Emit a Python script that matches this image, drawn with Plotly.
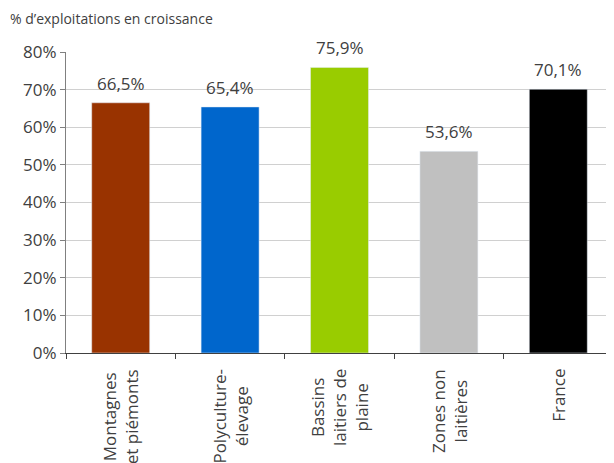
import plotly.graph_objects as go

categories = ["Montagnes<br>et piémonts", "Polyculture-<br>élevage", "Bassins<br>laitiers de<br>plaine", "Zones non<br>laitières", "France"]
values = [0.665, 0.654, 0.759, 0.536, 0.701]
labels = ["66,5%", "65,4%", "75,9%", "53,6%", "70,1%"]
colors = ["#993300", "#0066CC", "#99CC00", "#C0C0C0", "#000000"]
y_ticks = [0, 0.1, 0.2, 0.3, 0.4, 0.5, 0.6, 0.7, 0.8]
y_ticktext = ["0%", "10%", "20%", "30%", "40%", "50%", "60%", "70%", "80%"]

FONT = "Open Sans"
TXT = "#404040"

fig = go.Figure(go.Bar(
    x=categories, y=values, marker_color=colors, width=0.53,
))

annotations = [dict(
    text="% d\u2019exploitations en croissance", x=0, y=1, xref="paper", yref="paper",
    xanchor="left", yanchor="bottom", xshift=-58, yshift=22, showarrow=False,
    font=dict(family=FONT, size=14, color=TXT),
)]
for c, v, t in zip(categories, values, labels):
    annotations.append(dict(
        x=c, y=v, xref="x", yref="y", text=t, showarrow=False,
        xanchor="center", yanchor="bottom", yshift=6,
        font=dict(family=FONT, size=17, color=TXT),
    ))
    annotations.append(dict(
        x=c, y=0, xref="x", yref="y", text=c, showarrow=False,
        xanchor="center", yanchor="top", yshift=-14, textangle=-90, align="center",
        font=dict(family=FONT, size=17, color=TXT),
    ))

fig.update_layout(
    width=606, height=455,
    margin=dict(l=58, r=1, t=44, b=110, autoexpand=False),
    plot_bgcolor="white", paper_bgcolor="white",
    showlegend=False,
    font=dict(family=FONT, color=TXT),
    annotations=annotations,
)
fig.update_yaxes(
    range=[0, 0.8], tickvals=y_ticks, ticktext=y_ticktext, automargin=False,
    showgrid=True, gridcolor="#D0D0D0", gridwidth=1,
    showline=True, linecolor="#808080", linewidth=1,
    ticks="outside", ticklen=5, tickcolor="#808080",
    tickfont=dict(family=FONT, size=17, color=TXT), zeroline=False,
)
fig.update_xaxes(
    showline=True, linecolor="#404040", linewidth=1, automargin=False,
    ticks="outside", tickson="boundaries", ticklen=5, tickcolor="#404040",
    showticklabels=False,
)

fig.write_html("out.html")
